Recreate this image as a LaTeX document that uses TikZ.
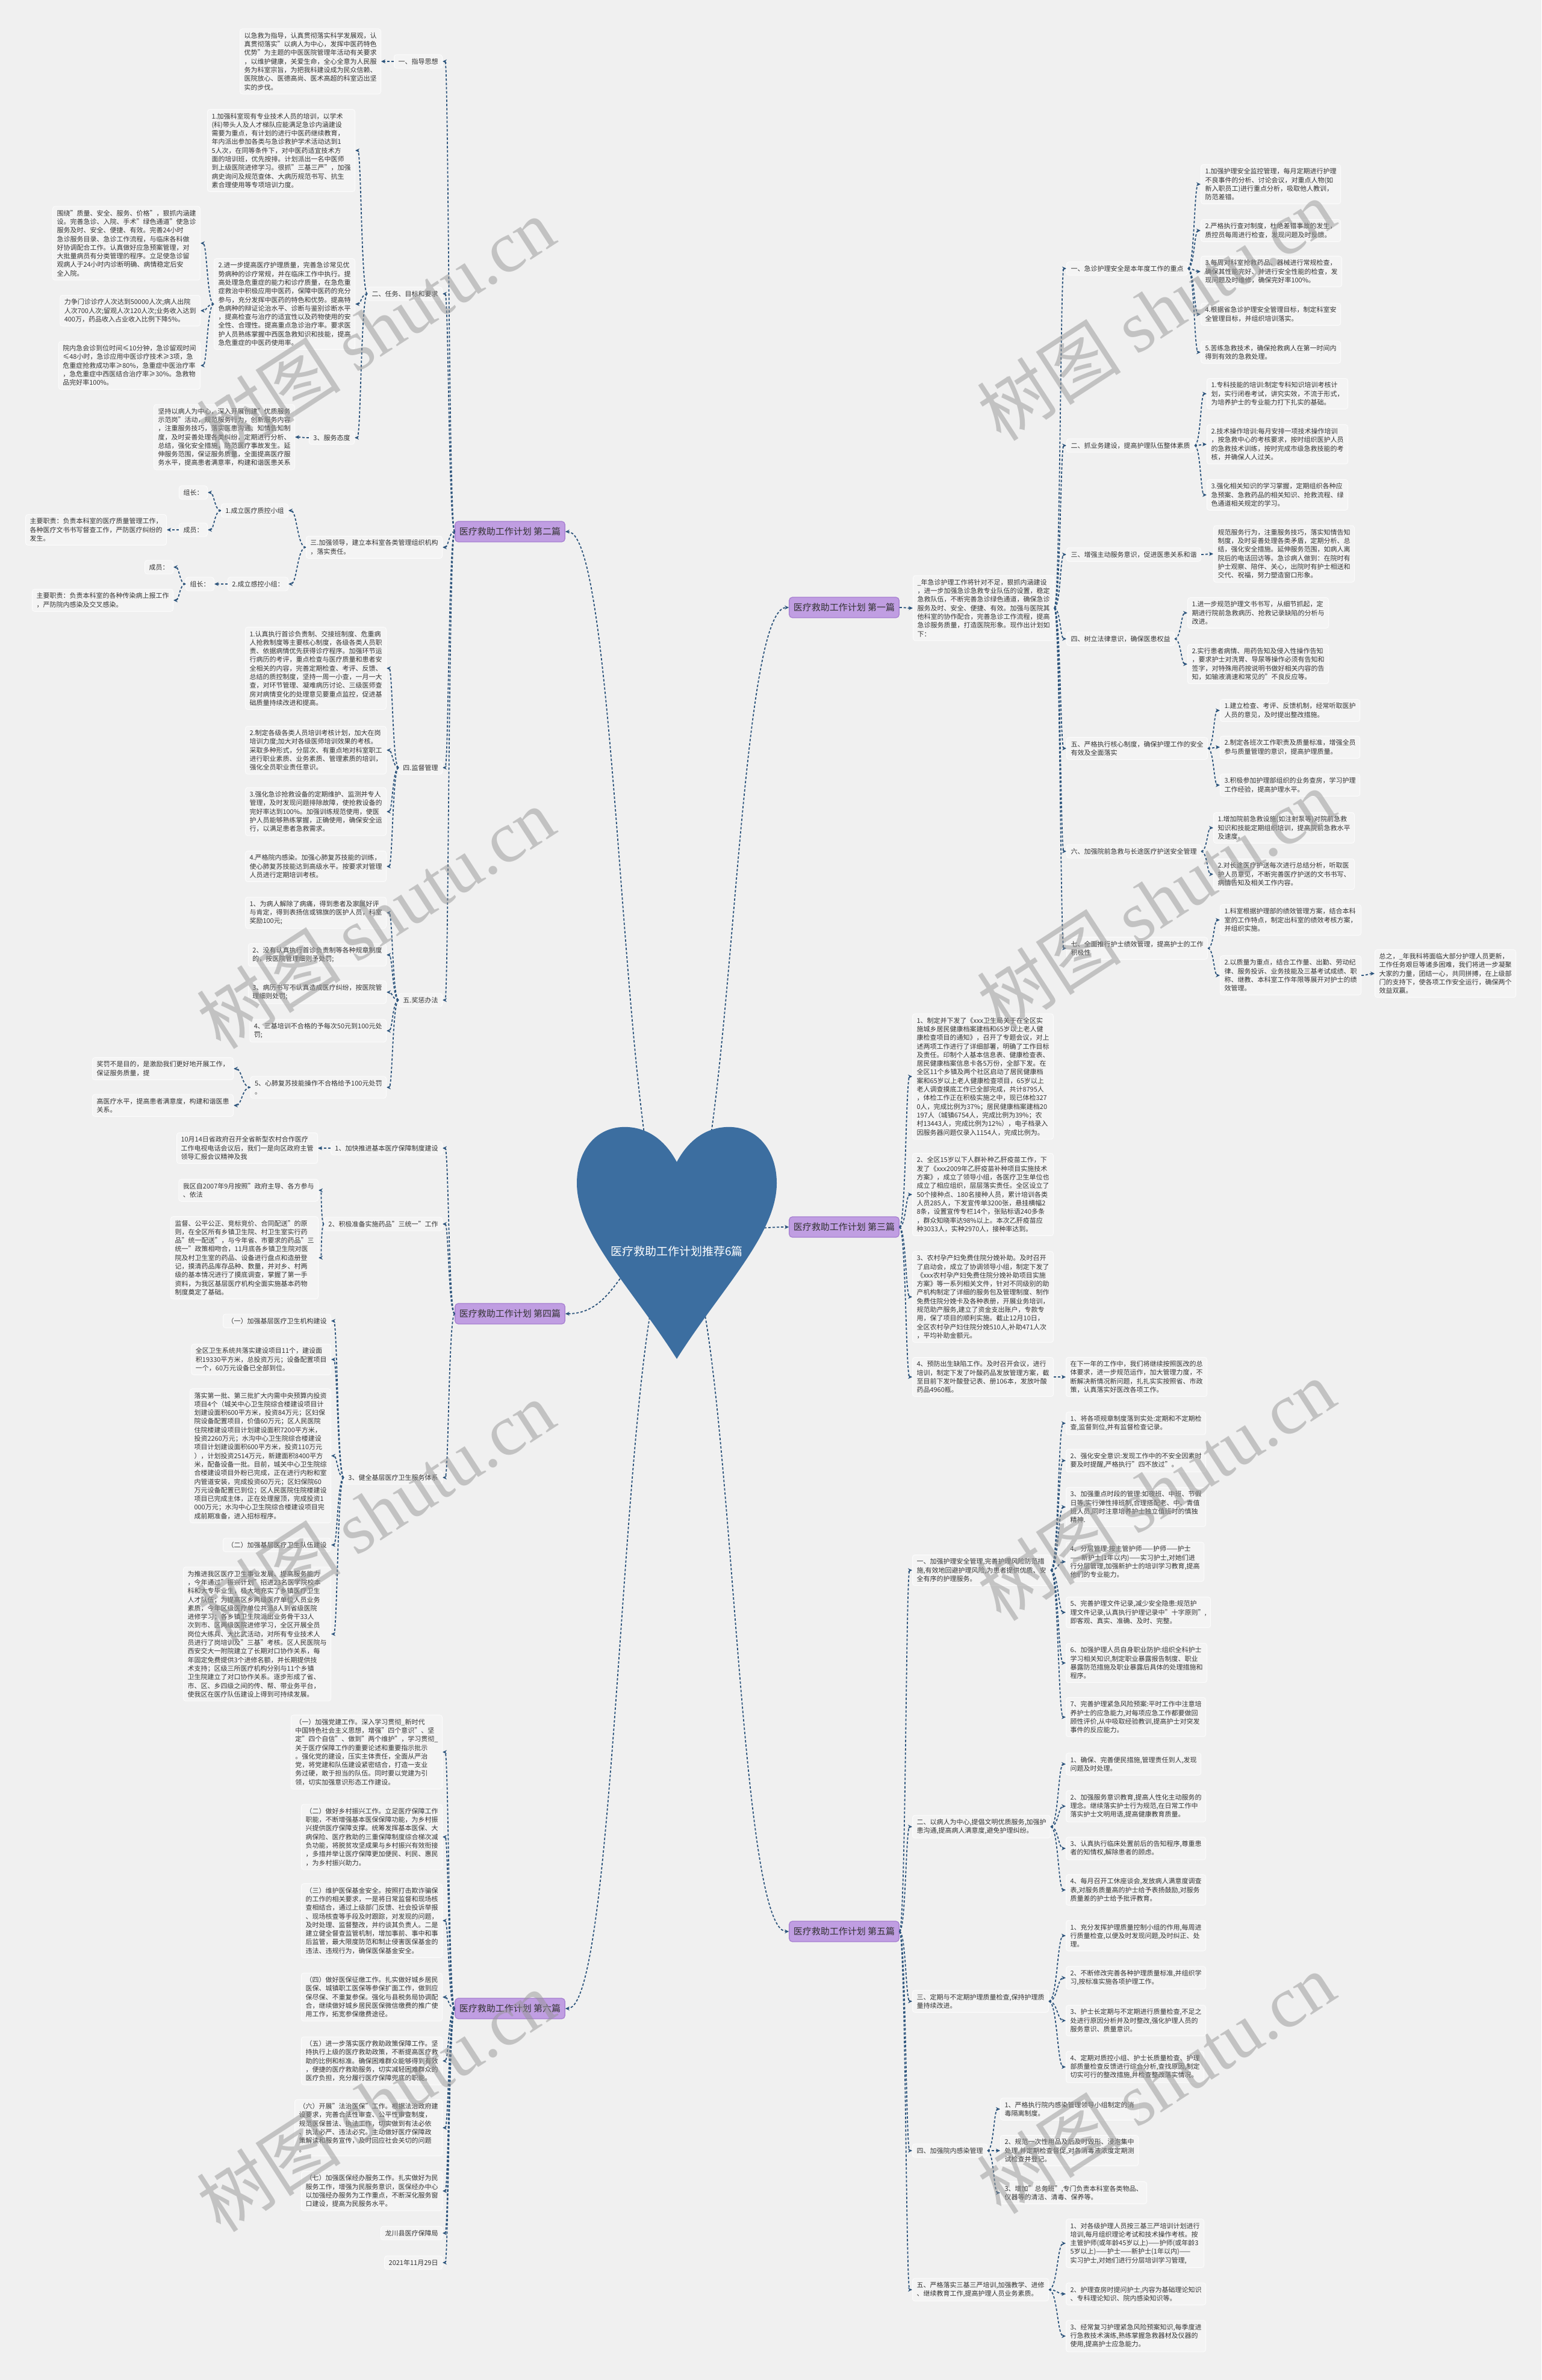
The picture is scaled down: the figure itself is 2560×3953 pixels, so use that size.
\documentclass[tikz,border=0pt]{standalone}
\usepackage{fontspec}
\setmainfont{Noto Sans CJK SC}
\newfontfamily\wmlatin{Liberation Serif}
\usetikzlibrary{arrows.meta,calc}
\definecolor{bgc}{RGB}{240,240,240}
\definecolor{boxfill}{RGB}{244,244,244}
\definecolor{boxline}{RGB}{252,252,252}
\definecolor{txt}{RGB}{51,51,51}
\definecolor{lnk}{RGB}{44,84,124}
\definecolor{heartc}{RGB}{60,110,160}
\definecolor{mainfill}{RGB}{192,158,226}
\definecolor{mainline}{RGB}{165,125,208}
\definecolor{wmc}{RGB}{150,150,150}
\newcommand{\linkpath}[2]{%
  \path (#1) coordinate (lkP) (#2) coordinate (lkC) ($(lkP)!0.5!(lkC)$) coordinate (lkM);
  \draw[conn] (lkP) .. controls (lkM |- lkP) and (lkM |- lkC) .. (lkC);}
\newcommand{\linkL}[2]{\linkpath{#1.west}{#2.east}}
\newcommand{\linkR}[2]{\linkpath{#1.east}{#2.west}}
\begin{document}
\begin{tikzpicture}[x=1pt,y=-1pt,
  box/.style={draw=boxline, line width=1pt, fill=boxfill, rounded corners=4pt, inner xsep=7pt, inner ysep=6pt, align=left, text=txt, font=\fontsize{11}{14.3}\selectfont},
  mainbox/.style={draw=mainline, line width=1.2pt, fill=mainfill, rounded corners=5pt, inner xsep=7pt, inner ysep=10pt, text=txt, font=\fontsize{15}{18}\selectfont},
  conn/.style={draw=lnk, line width=1.8pt, dash pattern=on 4pt off 3pt, -{Stealth[length=7pt,width=6.5pt]}},
  wm/.style={text=wmc, opacity=0.5, font=\fontsize{120}{130}\selectfont, rotate=33, inner sep=0pt},
]
\useasboundingbox (0,0) rectangle (2560,3953);
\fill[bgc] (0,0) rectangle (2560,3953);

% main nodes
\node[mainbox] (m1) at (1402,1009) {医疗救助工作计划 第一篇};
\node[mainbox] (m2) at (847,883) {医疗救助工作计划 第二篇};
\node[mainbox] (m3) at (1402,2038) {医疗救助工作计划 第三篇};
\node[mainbox] (m4) at (847,2182) {医疗救助工作计划 第四篇};
\node[mainbox] (m5) at (1402,3208) {医疗救助工作计划 第五篇};
\node[mainbox] (m6) at (847,3336) {医疗救助工作计划 第六篇};

\coordinate (hc) at (1124,2060);
\linkpath{hc}{m1.west}
\linkpath{hc}{m3.west}
\linkpath{hc}{m5.west}
\linkpath{hc}{m2.east}
\linkpath{hc}{m4.east}
\linkpath{hc}{m6.east}

% heart
\fill[heartc] (1124,1930) .. controls (1100,1885) and (1065,1870) .. (1032,1872)
  .. controls (986,1875) and (958,1915) .. (958,1965)
  .. controls (958,2050) and (1050,2140) .. (1124,2257)
  .. controls (1198,2140) and (1290,2050) .. (1290,1965)
  .. controls (1290,1915) and (1262,1875) .. (1216,1872)
  .. controls (1183,1870) and (1148,1885) .. (1124,1930) -- cycle;
\node[text=white, font=\fontsize{19}{22}\selectfont] (center) at (1124,2078) {医疗救助工作计划推荐6篇};

% ===== 第二篇 =====
\node[box,anchor=east] (a1) at (735,102) {一、指导思想};
\node[box,anchor=east] (a1t) at (633,102) {以急救为指导，认真贯彻落实科学发展观，认\\真贯彻落实"以病人为中心，发挥中医药特色\\优势"为主题的中医医院管理年活动有关要求\\，以维护健康，关爱生命，全心全意为人民服\\务为科室宗旨，为把我科建设成为民众信赖、\\医院放心、医德高尚、医术高超的科室迈出坚\\实的步伐。};
\node[box,anchor=east] (a2) at (735,488) {二、任务、目标和要求};
\node[box,anchor=east] (a2a) at (590,250) {1.加强科室现有专业技术人员的培训，以学术\\(科)带头人及人才梯队应能满足急诊内涵建设\\需要为重点，有计划的进行中医药继续教育，\\年内派出参加各类与急诊救护学术活动达到1\\5人次，在同等条件下，对中医药适宜技术方\\面的培训班，优先按排。计划派出一名中医师\\到上级医院进修学习。很抓"三基三严"，加强\\病史询问及规范查体、大病历规范书写、抗生\\素合理使用等专项培训力度。};
\node[box,anchor=east] (a2b) at (590,505) {2.进一步提高医疗护理质量，完善急诊常见优\\势病种的诊疗常规，并在临床工作中执行。提\\高处理急危重症的能力和诊疗质量，在急危重\\症救治中积极应用中医药，保障中医药的充分\\参与，充分发挥中医药的特色和优势。提高特\\色病种的辩证论治水平、诊断与鉴别诊断水平\\，提高检查与治疗的适宜性以及药物使用的安\\全性、合理性。提高重点急诊治疗率。要求医\\护人员熟练掌握中西医急救知识和技能，提高\\急危重症的中医药使用率。};
\node[box,anchor=east] (a2b1) at (333,404) {围绕"质量、安全、服务、价格"，狠抓内涵建\\设。完善急诊、入院、手术"绿色通道"使急诊\\服务及时、安全、便捷、有效。完善24小时\\急诊服务目录、急诊工作流程，与临床各科做\\好协调配合工作。认真做好应急预案管理，对\\大批量病员有分类管理的程序。立足使急诊留\\观病人于24小时内诊断明确、病情稳定后安\\全入院。};
\node[box,anchor=east] (a2b2) at (333,516) {力争门诊诊疗人次达到50000人次;病人出院\\人次700人次;留观人次120人次;业务收入达到\\400万，药品收入占业收入比例下降5\%。};
\node[box,anchor=east] (a2b3) at (333,607) {院内急会诊到位时间≤10分钟，急诊留观时间\\≤48小时，急诊应用中医诊疗技术≥3项，急\\危重症抢救成功率≥80\%，急重症中医治疗率\\，急危重症中西医结合治疗率≥30\%。急救物\\品完好率100\%。};
\node[box,anchor=east] (a2c) at (589,727) {3、服务态度};
\node[box,anchor=east] (a2c1) at (490,726) {坚持以病人为中心，深入开展创建"优质服务\\示范岗"活动，规范服务行为，创新服务内容\\，注重服务技巧，落实医患沟通、知情告知制\\度，及时妥善处理各类纠纷，定期进行分析、\\总结，强化安全措施，防范医疗事故发生。延\\伸服务范围，保证服务质量，全面提高医疗服\\务水平，提高患者满意率，构建和谐医患关系};
\node[box,anchor=east] (a3) at (735,909) {三.加强领导，建立本科室各类管理组织机构\\，落实责任。};
\node[box,anchor=east] (a3a) at (479,848) {1.成立医疗质控小组};
\node[box,anchor=east] (a3a1) at (345,818) {组长：};
\node[box,anchor=east] (a3a2) at (345,880) {成员：};
\node[box,anchor=east] (a3a2x) at (277,880) {主要职责：负责本科室的医疗质量管理工作，\\各种医疗文书书写督查工作，严防医疗纠纷的\\发生。};
\node[box,anchor=east] (a3b) at (479,970) {2.成立感控小组：};
\node[box,anchor=east] (a3b1) at (356,970) {组长：};
\node[box,anchor=east] (a3b1a) at (288,942) {成员：};
\node[box,anchor=east] (a3b1b) at (288,997) {主要职责：负责本科室的各种传染病上报工作\\，严防院内感染及交叉感染。};
\node[box,anchor=east] (a4) at (735,1275) {四.监督管理};
\node[box,anchor=east] (a4a) at (642,1110) {1.认真执行首诊负责制、交接班制度、危重病\\人抢救制度等主要核心制度，各级各类人员职\\责、依据病情优先获得诊疗程序。加强环节运\\行病历的考评，重点检查与医疗质量和患者安\\全相关的内容，完善定期检查、考评、反馈、\\总结的质控制度，坚持一周一小查，一月一大\\查，对环节管理、凝难病历讨论、三级医师查\\房对病情变化的处理意见要重点监控，促进基\\础质量持续改进和提高。};
\node[box,anchor=east] (a4b) at (642,1246) {2.制定各级各类人员培训考核计划，加大在岗\\培训力度;加大对各级医师培训效果的考核。\\采取多种形式，分层次、有重点地对科室职工\\进行职业素质、业务素质、管理素质的培训，\\强化全员职业责任意识。};
\node[box,anchor=east] (a4c) at (642,1348) {3.强化急诊抢救设备的定期维护、监测并专人\\管理，及时发现问题排除故障，使抢救设备的\\完好率达到100\%。加强训练规范使用，使医\\护人员能够熟练掌握，正确使用，确保安全运\\行，以满足患者急救需求。};
\node[box,anchor=east] (a4d) at (642,1439) {4.严格院内感染。加强心肺复苏技能的训练，\\使心肺复苏技能达到高级水平。按要求对管理\\人员进行定期培训考核。};
\node[box,anchor=east] (a5) at (735,1661) {五.奖惩办法};
\node[box,anchor=east] (a5a) at (642,1516) {1、为病人解除了病痛，得到患者及家属好评\\与肯定，得到表扬信或锦旗的医护人员，科室\\奖励100元;};
\node[box,anchor=east] (a5b) at (642,1586) {2、没有认真执行首诊负责制等各种规章制度\\的，按医院管理细则予处罚;};
\node[box,anchor=east] (a5c) at (642,1648) {3、病历书写不认真造成医疗纠纷，按医院管\\理细则处罚;};
\node[box,anchor=east] (a5d) at (642,1712) {4、三基培训不合格的予每次50元到100元处\\罚;};
\node[box,anchor=east] (a5e) at (642,1806) {5、心肺复苏技能操作不合格给予100元处罚\\。};
\node[box,anchor=east] (a5e1) at (388,1775) {奖罚不是目的，是激励我们更好地开展工作，\\保证服务质量，提};
\node[box,anchor=east] (a5e2) at (388,1836) {高医疗水平，提高患者满意度，构建和谐医患\\关系。};

% ===== 第四篇 =====
\node[box,anchor=east] (b1) at (735,1907) {1、加快推进基本医疗保障制度建设};
\node[box,anchor=east] (b1a) at (528,1907) {10月14日省政府召开全省新型农村合作医疗\\工作电视电话会议后，我们一是向区政府主管\\领导汇报会议精神及我};
\node[box,anchor=east] (b2) at (735,2033) {2、积极准备实施药品"三统一"工作};
\node[box,anchor=east] (b2a) at (529,1977) {我区自2007年9月按照"政府主导、各方参与\\、依法};
\node[box,anchor=east] (b2b) at (529,2089) {监督、公平公正、竞标竞价、合同配送"的原\\则，在全区所有乡镇卫生院、村卫生室实行药\\品"统一配送"，与今年省、市要求的药品"三\\统一"政策相吻合，11月底各乡镇卫生院对医\\院及村卫生室的药品、设备进行盘点和造册登\\记，摸清药品库存品种、数量，并对乡、村两\\级的基本情况进行了摸底调查，掌握了第一手\\资料，为我区基层医疗机构全面实施基本药物\\制度奠定了基础。};
\node[box,anchor=east] (b3) at (735,2454) {3、健全基层医疗卫生服务体系};
\node[box,anchor=east] (b3a) at (550,2194) {（一）加强基层医疗卫生机构建设};
\node[box,anchor=east] (b3b) at (550,2258) {全区卫生系统共落实建设项目11个，建设面\\积19330平方米，总投资万元；设备配置项目\\一个，60万元设备已全部到位。};
\node[box,anchor=east] (b3c) at (550,2418) {落实第一批、第三批扩大内需中央预算内投资\\项目4个（城关中心卫生院综合楼建设项目计\\划建设面积600平方米，投资84万元；区妇保\\院设备配置项目，价值60万元；区人民医院\\住院楼建设项目计划建设面积7200平方米，\\投资2260万元；水沟中心卫生院综合楼建设\\项目计划建设面积600平方米，投资110万元\\），计划投资2514万元，新建面积8400平方\\米，配备设备一批。目前，城关中心卫生院综\\合楼建设项目外粉已完成，正在进行内粉和室\\内管道安装，完成投资60万元；区妇保院60\\万元设备配置已到位；区人民医院住院楼建设\\项目已完成主体，正在处理屋顶，完成投资1\\000万元；水沟中心卫生院综合楼建设项目完\\成前期准备，进入招标程序。};
\node[box,anchor=east] (b3d) at (550,2566) {（二）加强基层医疗卫生队伍建设};
\node[box,anchor=east] (b3e) at (550,2714) {为推进我区医疗卫生事业发展、提高服务能力\\，今年通过"振兴计划"招进23名医学院校本\\科和大专毕业生，极大地充实了乡镇医疗卫生\\人才队伍；为提高区乡两级医疗单位人员业务\\素质，今年区级医疗单位共派8人到省级医院\\进修学习；各乡镇卫生院派出业务骨干33人\\次到市、区两级医院进修学习，全区开展全员\\岗位大练兵、大比武活动，对所有专业技术人\\员进行了岗培训及"三基"考核。区人民医院与\\西安交大一附院建立了长期对口协作关系，每\\年固定免费提供3个进修名额，并长期提供技\\术支持；区级三所医疗机构分别与11个乡镇\\卫生院建立了对口协作关系。逐步形成了省、\\市、区、乡四级之间的传、帮、带业务平台，\\使我区在医疗队伍建设上得到可持续发展。};

% ===== 第六篇 =====
\node[box,anchor=east] (c1) at (735,2910) {（一）加强党建工作。深入学习贯彻\_新时代\\中国特色社会主义思想，增强"四个意识"、坚\\定"四个自信"、做到"两个维护"，学习贯彻\_\\关于医疗保障工作的重要论述和重要指示批示\\。强化党的建设，压实主体责任，全面从严治\\党，将党建和队伍建设紧密结合，打造一支业\\务过硬，敢于担当的队伍。同时要以党建为引\\领，切实加强意识形态工作建设。};
\node[box,anchor=east] (c2) at (735,3051) {（二）做好乡村振兴工作。立足医疗保障工作\\职能，不断增强基本医保保障功能，为乡村振\\兴提供医疗保障支撑。统筹发挥基本医保、大\\病保险、医疗救助的三重保障制度综合梯次减\\负功能，将脱贫攻坚成果与乡村振兴有效衔接\\，多措并举让医疗保障更加便民、利民、惠民\\，为乡村振兴助力。};
\node[box,anchor=east] (c3) at (735,3190) {（三）维护医保基金安全。按照打击欺诈骗保\\的工作的相关要求，一是将日常监督和现场核\\查相结合，通过上级部门反馈、社会投诉举报\\、现场核查等手段及时跟踪，对发现的问题，\\及时处理、监督整改，并约谈其负责人。二是\\建立健全督查监管机制，增加事前、事中和事\\后监管，最大限度防范和制止侵害医保基金的\\违法、违规行为，确保医保基金安全。};
\node[box,anchor=east] (c4) at (735,3317) {（四）做好医保征缴工作。扎实做好城乡居民\\医保、城镇职工医保等参保扩面工作，做到应\\保尽保、不重复参保。强化与县税务局协调配\\合，继续做好城乡居民医保微信缴费的推广使\\用工作，拓宽参保缴费途径。};
\node[box,anchor=east] (c5) at (735,3423) {（五）进一步落实医疗救助政策保障工作。坚\\持执行上级的医疗救助政策，不断提高医疗救\\助的比例和标准。确保困难群众能够得到有效\\，便捷的医疗救助服务，切实减轻困难群众的\\医疗负担，充分履行医疗保障兜底的职能。};
\node[box,anchor=east] (c6) at (735,3534) {（六）开展"法治医保"工作。根据法治政府建\\设要求，完善合法性审查、公平性审查制度，\\规范医保普法、执法工作，切实做到有法必依\\、执法必严、违法必究。主动做好医疗保障政\\策解读和服务宣传，及时回应社会关切的问题\\。};
\node[box,anchor=east] (c7) at (735,3639) {（七）加强医保经办服务工作。扎实做好为民\\服务工作，增强为民服务意识，医保经办中心\\以加强经办服务为工作重点，不断深化服务窗\\口建设，提高为民服务水平。};
\node[box,anchor=east] (c8) at (735,3709) {龙川县医疗保障局};
\node[box,anchor=east] (c9) at (735,3758) {2021年11月29日};

% ===== 第一篇 =====
\node[box,anchor=west] (d0) at (1516,1010) {\_年急诊护理工作将针对不足，狠抓内涵建设\\，进一步加强急诊急救专业队伍的设置，稳定\\急救队伍，不断完善急诊绿色通道，确保急诊\\服务及时、安全、便捷、有效。加强与医院其\\他科室的协作配合，完善急诊工作流程，提高\\急诊服务质量，打造医院形象。现作出计划如\\下：};
\node[box,anchor=west] (d1) at (1771,446) {一、急诊护理安全是本年度工作的重点};
\node[box,anchor=west] (d1a) at (1994,306) {1.加强护理安全监控管理，每月定期进行护理\\不良事件的分析、讨论会议，对重点人物(如\\新入职员工)进行重点分析，吸取他人教训，\\防范差错。};
\node[box,anchor=west] (d1b) at (1994,383) {2.严格执行查对制度，杜绝差错事故的发生，\\质控员每周进行检查，发现问题及时反馈。};
\node[box,anchor=west] (d1c) at (1994,451) {3.每周对科室抢救药品、器械进行常规检查，\\确保其性能完好、并进行安全性能的检查，发\\现问题及时维修，确保完好率100\%。};
\node[box,anchor=west] (d1d) at (1994,522) {4.根据省急诊护理安全管理目标，制定科室安\\全管理目标，并组织培训落实。};
\node[box,anchor=west] (d1e) at (1994,585) {5.苦练急救技术，确保抢救病人在第一时间内\\得到有效的急救处理。};
\node[box,anchor=west] (d2) at (1771,740) {二、抓业务建设，提高护理队伍整体素质};
\node[box,anchor=west] (d2a) at (2004,654) {1.专科技能的培训:制定专科知识培训考核计\\划，实行闭卷考试，讲究实效，不流于形式，\\为培养护士的专业能力打下扎实的基础。};
\node[box,anchor=west] (d2b) at (2004,738) {2.技术操作培训:每月安排一项技术操作培训\\，按急救中心的考核要求，按时组织医护人员\\的急救技术训练，按时完成市级急救技能的考\\核，并确保人人过关。};
\node[box,anchor=west] (d2c) at (2004,822) {3.强化相关知识的学习掌握，定期组织各种应\\急预案、急救药品的相关知识、抢救流程、绿\\色通道相关规定的学习。};
\node[box,anchor=west] (d3) at (1771,921) {三、增强主动服务意识，促进医患关系和谐};
\node[box,anchor=west] (d3a) at (2015,920) {规范服务行为，注重服务技巧，落实知情告知\\制度，及时妥善处理各类矛盾，定期分析、总\\结，强化安全措施。延伸服务范围，如病人离\\院后的电话回访等。急诊病人做到：在院时有\\护士观察、陪伴、关心，出院时有护士相送和\\交代、祝福，努力塑造窗口形象。};
\node[box,anchor=west] (d4) at (1771,1061) {四、树立法律意识，确保医患权益};
\node[box,anchor=west] (d4a) at (1972,1018) {1.进一步规范护理文书书写，从细节抓起，定\\期进行院前急救病历、抢救记录缺陷的分析与\\改进。};
\node[box,anchor=west] (d4b) at (1972,1103) {2.实行患者病情、用药告知及侵入性操作告知\\，要求护士对洗胃、导尿等操作必须有告知和\\签字，对特殊用药按说明书做好相关内容的告\\知，如输液滴速和常见的"不良反应等。};
\node[box,anchor=west] (d5) at (1771,1243) {五、严格执行核心制度，确保护理工作的安全\\有效及全面落实};
\node[box,anchor=west] (d5a) at (2026,1180) {1.建立检查、考评、反馈机制，经常听取医护\\人员的意见，及时提出整改措施。};
\node[box,anchor=west] (d5b) at (2026,1241) {2.制定各班次工作职责及质量标准，增强全员\\参与质量管理的意识，提高护理质量。};
\node[box,anchor=west] (d5c) at (2026,1304) {3.积极参加护理部组织的业务查房，学习护理\\工作经验，提高护理水平。};
\node[box,anchor=west] (d6) at (1771,1414) {六、加强院前急救与长途医疗护送安全管理};
\node[box,anchor=west] (d6a) at (2015,1375) {1.增加院前急救设施(如注射泵等)对院前急救\\知识和技能定期组织培训，提高院前急救水平\\及速度。};
\node[box,anchor=west] (d6b) at (2015,1452) {2.对长途医疗护送每次进行总结分析，听取医\\护人员意见，不断完善医疗护送的文书书写、\\病情告知及相关工作内容。};
\node[box,anchor=west] (d7) at (1771,1575) {七、全面推行护士绩效管理，提高护士的工作\\积极性};
\node[box,anchor=west] (d7a) at (2026,1528) {1.科室根据护理部的绩效管理方案，结合本科\\室的工作特点，制定出科室的绩效考核方案，\\并组织实施。};
\node[box,anchor=west] (d7b) at (2026,1620) {2.以质量为重点，结合工作量、出勤、劳动纪\\律、服务投诉、业务技能及三基考试成绩、职\\称、继教、本科室工作年限等展开对护士的绩\\效管理。};
\node[box,anchor=west] (d7b1) at (2283,1617) {总之，\_年我科将面临大部分护理人员更新，\\工作任务艰巨等诸多困难，我们将进一步凝聚\\大家的力量，团结一心，共同拼搏，在上级部\\门的支持下，使各项工作安全运行，确保两个\\效益双赢。};

% ===== 第三篇 =====
\node[box,anchor=west] (e1) at (1515,1788) {1、制定并下发了《xxx卫生局关于在全区实\\施城乡居民健康档案建档和65岁以上老人健\\康检查项目的通知》，召开了专题会议，对上\\述两项工作进行了详细部署，明确了工作目标\\及责任。印制个人基本信息表、健康检查表、\\居民健康档案信息卡各5万份，全部下发。在\\全区11个乡镇及两个社区启动了居民健康档\\案和65岁以上老人健康检查项目，65岁以上\\老人调查摸底工作已全部完成，共计8795人\\，体检工作正在积极实施之中，现已体检327\\0人，完成比例为37\%；居民健康档案建档20\\197人（城镇6754人，完成比例为39\%；农\\村13443人，完成比例为12\%），电子档录入\\因服务器问题仅录入1154人，完成比例为。};
\node[box,anchor=west] (e2) at (1515,1984) {2、全区15岁以下人群补种乙肝疫苗工作，下\\发了《xxx2009年乙肝疫苗补种项目实施技术\\方案》，成立了领导小组，各医疗卫生单位也\\成立了相应组织，层层落实责任。全区设立了\\50个接种点、180名接种人员，累计培训各类\\人员285人，下发宣传单3200张，悬挂横幅2\\8条，设置宣传专栏14个，张贴标语240多条\\，群众知晓率达98\%以上。本次乙肝疫苗应\\种3033人，实种2970人，接种率达到。};
\node[box,anchor=west] (e3) at (1515,2154) {3、农村孕产妇免费住院分娩补助。及时召开\\了启动会，成立了协调领导小组，制定下发了\\《xxx农村孕产妇免费住院分娩补助项目实施\\方案》等一系列相关文件，针对不同级别的助\\产机构制定了详细的服务包及管理制度、制作\\免费住院分娩卡及各种表册，开展业务培训，\\规范助产服务,建立了资金支出账户，专款专\\用，保了项目的顺利实施。截止12月10日，\\全区农村孕产妇住院分娩510人,补助471人次\\，平均补助金额元。};
\node[box,anchor=west] (e4) at (1515,2287) {4、预防出生缺陷工作。及时召开会议，进行\\培训，制定下发了叶酸药品发放管理方案，截\\至目前下发叶酸登记表、册106本，发放叶酸\\药品4960瓶。};
\node[box,anchor=west] (e4a) at (1770,2287) {在下一年的工作中，我们将继续按照医改的总\\体要求，进一步规范运作，加大管理力度，不\\断解决新情况新问题，扎扎实实按照省、市政\\策，认真落实好医改各项工作。};

% ===== 第五篇 =====
\node[box,anchor=west] (f1) at (1515,2608) {一、加强护理安全管理,完善护理风险防范措\\施,有效地回避护理风险,为患者提供优质、安\\全有序的护理服务。};
\node[box,anchor=west] (f1a) at (1770,2364) {1、将各项规章制度落到实处:定期和不定期检\\查,监督到位,并有监督检查记录。};
\node[box,anchor=west] (f1b) at (1770,2426) {2、强化安全意识:发现工作中的不安全因素时\\要及时提醒,严格执行"四不放过"。};
\node[box,anchor=west] (f1c) at (1770,2503) {3、加强重点时段的管理:如夜班、中班、节假\\日等,实行弹性排班制,合理搭配老、中、青值\\班人员,同时注意培养护士独立值班时的慎独\\精神.};
\node[box,anchor=west] (f1d) at (1770,2594) {4、分层管理:按主管护师——护师——护士\\——新护士(1年以内)——实习护士,对她们进\\行分层管理,加强新护士的培训学习教育,提高\\他们的专业能力。};
\node[box,anchor=west] (f1e) at (1770,2678) {5、完善护理文件记录,减少安全隐患:规范护\\理文件记录,认真执行护理记录中"十字原则",\\即客观、真实、准确、及时、完整。};
\node[box,anchor=west] (f1f) at (1770,2762) {6、加强护理人员自身职业防护:组织全科护士\\学习相关知识,制定职业暴露报告制度、职业\\暴露防范措施及职业暴露后具体的处理措施和\\程序。};
\node[box,anchor=west] (f1g) at (1770,2852) {7、完善护理紧急风险预案:平时工作中注意培\\养护士的应急能力,对每项应急工作都要做回\\顾性评价,从中吸取经验教训,提高护士对突发\\事件的反应能力。};
\node[box,anchor=west] (f2) at (1515,3034) {二、以病人为中心,提倡文明优质服务,加强护\\患沟通,提高病人满意度,避免护理纠纷。};
\node[box,anchor=west] (f2a) at (1770,2930) {1、确保、完善便民措施,管理责任到人,发现\\问题及时处理。};
\node[box,anchor=west] (f2b) at (1770,3000) {2、加强服务意识教育,提高人性化主动服务的\\理念。继续落实护士行为规范,在日常工作中\\落实护士文明用语,提高健康教育质量。};
\node[box,anchor=west] (f2c) at (1770,3070) {3、认真执行临床处置前后的告知程序,尊重患\\者的知情权,解除患者的顾虑。};
\node[box,anchor=west] (f2d) at (1770,3139) {4、每月召开工休座谈会,发放病人满意度调查\\表,对服务质量高的护士给予表扬鼓励,对服务\\质量差的护士给予批评教育。};
\node[box,anchor=west] (f3) at (1515,3324) {三、定期与不定期护理质量检查,保持护理质\\量持续改进。};
\node[box,anchor=west] (f3a) at (1770,3215) {1、充分发挥护理质量控制小组的作用,每周进\\行质量检查,以便及时发现问题,及时纠正、处\\理。};
\node[box,anchor=west] (f3b) at (1770,3285) {2、不断修改完善各种护理质量标准,并组织学\\习,按标准实施各项护理工作。};
\node[box,anchor=west] (f3c) at (1770,3356) {3、护士长定期与不定期进行质量检查,不足之\\处进行原因分析并及时整改,强化护理人员的\\服务意识、质量意识。};
\node[box,anchor=west] (f3d) at (1770,3433) {4、定期对质控小组、护士长质量检查、护理\\部质量检查反馈进行综合分析,查找原因,制定\\切实可行的整改措施,并检查整改落实情况。};
\node[box,anchor=west] (f4) at (1515,3572) {四、加强院内感染管理};
\node[box,anchor=west] (f4a) at (1661,3503) {1、严格执行院内感染管理领导小组制定的消\\毒隔离制度。};
\node[box,anchor=west] (f4b) at (1661,3572) {2、规范一次性用品及后及时毁形、浸泡集中\\处理,并定期检查督促,对各消毒液浓度定期测\\试检查并登记。};
\node[box,anchor=west] (f4c) at (1661,3642) {3、增加"总务班",专门负责本科室各类物品、\\仪器等的清洁、清毒、保养等。};
\node[box,anchor=west] (f5) at (1515,3803) {五、严格落实三基三严培训,加强教学、进修\\、继续教育工作,提高护理人员业务素质。};
\node[box,anchor=west] (f5a) at (1770,3726) {1、对各级护理人员按三基三严培训计划进行\\培训,每月组织理论考试和技术操作考核。按\\主管护师(或年龄45岁以上)——护师(或年龄3\\5岁以上)——护士——新护士(1年以内)——\\实习护士,对她们进行分层培训学习管理,};
\node[box,anchor=west] (f5b) at (1770,3810) {2、护理查房时提问护士,内容为基础理论知识\\、专科理论知识、院内感染知识等。};
\node[box,anchor=west] (f5c) at (1770,3880) {3、经常复习护理紧急风险预案知识,每季度进\\行急救技术演练,熟练掌握急救器材及仪器的\\使用,提高护士应急能力。};

% ===== connectors =====
\foreach \c in {a1,a2,a3,a4,a5} {\linkL{m2}{\c}}
\linkL{a1}{a1t}
\foreach \c in {a2a,a2b,a2c} {\linkL{a2}{\c}}
\foreach \c in {a2b1,a2b2,a2b3} {\linkL{a2b}{\c}}
\linkL{a2c}{a2c1}
\foreach \c in {a3a,a3b} {\linkL{a3}{\c}}
\foreach \c in {a3a1,a3a2} {\linkL{a3a}{\c}}
\linkL{a3a2}{a3a2x}
\linkL{a3b}{a3b1}
\foreach \c in {a3b1a,a3b1b} {\linkL{a3b1}{\c}}
\foreach \c in {a4a,a4b,a4c,a4d} {\linkL{a4}{\c}}
\foreach \c in {a5a,a5b,a5c,a5d,a5e} {\linkL{a5}{\c}}
\foreach \c in {a5e1,a5e2} {\linkL{a5e}{\c}}

\foreach \c in {b1,b2,b3} {\linkL{m4}{\c}}
\linkL{b1}{b1a}
\foreach \c in {b2a,b2b} {\linkL{b2}{\c}}
\foreach \c in {b3a,b3b,b3c,b3d,b3e} {\linkL{b3}{\c}}

\foreach \c in {c1,c2,c3,c4,c5,c6,c7,c8,c9} {\linkL{m6}{\c}}

\linkR{m1}{d0}
\foreach \c in {d1,d2,d3,d4,d5,d6,d7} {\linkR{d0}{\c}}
\foreach \c in {d1a,d1b,d1c,d1d,d1e} {\linkR{d1}{\c}}
\foreach \c in {d2a,d2b,d2c} {\linkR{d2}{\c}}
\linkR{d3}{d3a}
\foreach \c in {d4a,d4b} {\linkR{d4}{\c}}
\foreach \c in {d5a,d5b,d5c} {\linkR{d5}{\c}}
\foreach \c in {d6a,d6b} {\linkR{d6}{\c}}
\foreach \c in {d7a,d7b} {\linkR{d7}{\c}}
\linkR{d7b}{d7b1}

\foreach \c in {e1,e2,e3,e4} {\linkR{m3}{\c}}
\linkR{e4}{e4a}

\foreach \c in {f1,f2,f3,f4,f5} {\linkR{m5}{\c}}
\foreach \c in {f1a,f1b,f1c,f1d,f1e,f1f,f1g} {\linkR{f1}{\c}}
\foreach \c in {f2a,f2b,f2c,f2d} {\linkR{f2}{\c}}
\foreach \c in {f3a,f3b,f3c,f3d} {\linkR{f3}{\c}}
\foreach \c in {f4a,f4b,f4c} {\linkR{f4}{\c}}
\foreach \c in {f5a,f5b,f5c} {\linkR{f5}{\c}}

% ===== watermarks =====
\node[wm] (w1) at (624,545) {树图 {\wmlatin shutu.cn}};
\node[wm] (w2) at (624,1525) {树图 {\wmlatin shutu.cn}};
\node[wm] (w3) at (624,2510) {树图 {\wmlatin shutu.cn}};
\node[wm] (w4) at (624,3490) {树图 {\wmlatin shutu.cn}};
\node[wm] (w5) at (1920,515) {树图 {\wmlatin shutu.cn}};
\node[wm] (w6) at (1920,1495) {树图 {\wmlatin shutu.cn}};
\node[wm] (w7) at (1920,2475) {树图 {\wmlatin shutu.cn}};
\node[wm] (w8) at (1920,3460) {树图 {\wmlatin shutu.cn}};
\end{tikzpicture}
\end{document}
